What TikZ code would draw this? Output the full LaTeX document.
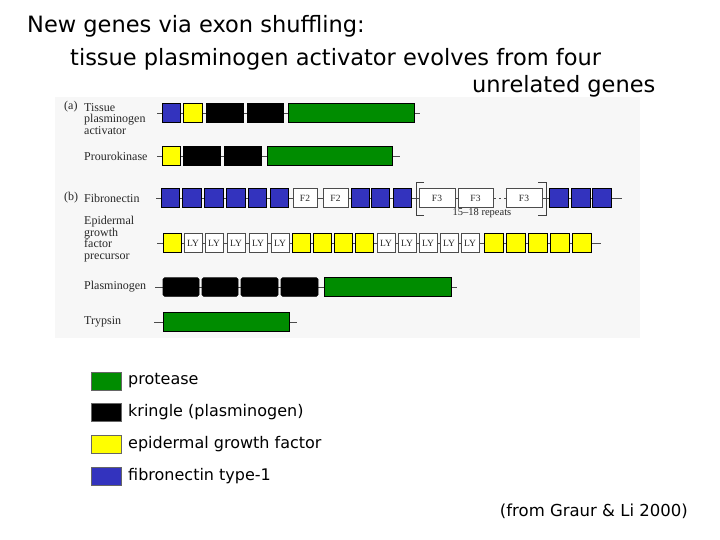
\documentclass[tikz,border=0pt]{standalone}
\usepackage{fontspec}
\setmainfont{DejaVu Sans}
\newfontfamily\figfont{Liberation Serif}
\usetikzlibrary{backgrounds}
\definecolor{protgreen}{RGB}{0,140,0}
\definecolor{fibblue}{RGB}{51,51,190}
\definecolor{egfyellow}{RGB}{255,255,0}
\definecolor{panelgray}{RGB}{247,247,247}
\definecolor{labelgray}{RGB}{40,40,40}
\begin{document}
\begin{tikzpicture}[x=1pt, y=-1pt,
  exon/.style={draw=black, line width=0.6pt, inner sep=0pt, minimum height=18.5pt},
  prot/.style={exon, fill=protgreen},
  kring/.style={exon, fill=black},
  egf/.style={exon, fill=egfyellow},
  fib/.style={exon, fill=fibblue},
  repeatbox/.style={exon, fill=white, draw=black!70, text=labelgray,
    font=\figfont\fontsize{9.5}{9.5}\selectfont},
  backbone/.style={draw=black!70, line width=0.5pt},
  genelabel/.style={anchor=west, align=left, inner sep=0pt, text=labelgray,
    font=\figfont\fontsize{12}{11.5}\selectfont},
  keybox/.style={draw=black!60, minimum width=30pt, minimum height=18pt, inner sep=0pt},
  keytext/.style={anchor=west, inner sep=0pt, font=\fontsize{16}{18}\selectfont},
  titletext/.style={anchor=base west, inner sep=0pt, font=\fontsize{22.5}{24}\selectfont}]

  \useasboundingbox (0,0) rectangle (720,540);

  % Title
  \node[titletext] (title1) at (27,33) {New genes via exon shuffling:};
  \node[titletext] (title2) at (70,66) {tissue plasminogen activator evolves from four};
  \node[titletext] (title3) at (472,93) {unrelated genes};

  % (a) Tissue plasminogen activator
  \node[genelabel, anchor=base west] (partA) at (64,110) {(a)};
  \node[genelabel] (tpaLab) at (84,119) {Tissue\\plasminogen\\activator};
  \coordinate (tpaS) at (157,113);
  \coordinate (tpaE) at (420,113);
  \node[fib, minimum width=18pt] (tpa1) at (171,113) {};
  \node[egf, minimum width=19pt] (tpa2) at (192.5,113) {};
  \foreach \l/\r [count=\i] in {206/243, 247/283} {
    \node[kring, minimum width={(\r-\l)*1pt}] (tpaK\i) at ({(\l+\r)/2},113) {};
  }
  \node[prot, minimum width=126pt] (tpaP) at (351,113) {};

  % Prourokinase
  \node[genelabel] (pukLab) at (84,156) {Prourokinase};
  \coordinate (pukS) at (157,156);
  \coordinate (pukE) at (400,156);
  \node[egf, minimum width=18pt] (puk1) at (171,156) {};
  \foreach \l/\r [count=\i] in {183/220, 224/261} {
    \node[kring, minimum width={(\r-\l)*1pt}] (pukK\i) at ({(\l+\r)/2},156) {};
  }
  \node[prot, minimum width=125pt] (pukP) at (329.5,156) {};

  % (b) Fibronectin
  \node[genelabel, anchor=base west] (partB) at (64,201) {(b)};
  \node[genelabel] (fibLab) at (84,198) {Fibronectin};
  \coordinate (fibS) at (156,198);
  \coordinate (fibE) at (622,198);
  \foreach \l/\r [count=\i] in {161/179, 182/201, 204/223, 226/245, 248/266, 270/288,
      351/369, 371/389, 393/411, 549/568, 571/590, 592/611} {
    \node[fib, minimum width={(\r-\l)*1pt}] (fibB\i) at ({(\l+\r)/2},198) {};
  }
  \foreach \l/\r [count=\i] in {293/317, 323/348} {
    \node[repeatbox, minimum width={(\r-\l)*1pt}] (fibF2\i) at ({(\l+\r)/2},198) {F2};
  }
  \foreach \l/\r [count=\i] in {419/455, 458/493, 506/542} {
    \node[repeatbox, minimum width={(\r-\l)*1pt}] (fibF3\i) at ({(\l+\r)/2},198) {F3};
  }
  \draw[black!75, line width=0.6pt] (424,182) -- (416,182) -- (416,215) -- (424,215);
  \draw[black!75, line width=0.6pt] (538,182) -- (546,182) -- (546,215) -- (538,215);
  \node[inner sep=0pt, text=labelgray, font=\figfont\fontsize{10.5}{11}\selectfont]
    (fibRep) at (482,213) {15–18 repeats};

  % Epidermal growth factor precursor
  \node[genelabel] (egfLab) at (84,239) {Epidermal\\growth\\factor\\precursor};
  \coordinate (egfS) at (157,243);
  \coordinate (egfE) at (601,243);
  \foreach \l/\r [count=\i] in {163/181, 292/310, 313/331, 334/352, 355/373,
      484/503, 506/525, 528/547, 550/569, 572/591} {
    \node[egf, minimum width={(\r-\l)*1pt}] (egfY\i) at ({(\l+\r)/2},243) {};
  }
  \foreach \l/\r [count=\i] in {184/202, 205/223, 227/245, 249/267, 271/289,
      377/395, 398/416, 419/437, 440/458, 461/479} {
    \node[repeatbox, minimum width={(\r-\l)*1pt}] (egfL\i) at ({(\l+\r)/2},243) {LY};
  }

  % Plasminogen
  \node[genelabel] (plgLab) at (84,287) {Plasminogen};
  \coordinate (plgS) at (155,287);
  \coordinate (plgE) at (457,287);
  \foreach \l/\r [count=\i] in {163/199, 202/238, 241/278, 281/318} {
    \node[kring, rounded corners=1.5pt, minimum width={(\r-\l)*1pt}] (plgK\i) at ({(\l+\r)/2},287) {};
  }
  \node[prot, minimum width=127pt] (plgP) at (387.5,287) {};

  % Trypsin
  \node[genelabel] (tryLab) at (84,322) {Trypsin};
  \coordinate (tryS) at (154,322);
  \coordinate (tryE) at (297,322);
  \node[prot, minimum width=126pt] (tryP) at (226,322) {};

  % Backbones and panel
  \begin{scope}[on background layer]
    \fill[panelgray] (55,97) rectangle (640,338);
    \draw[backbone] (tpaS) -- (tpaE);
    \draw[backbone] (pukS) -- (pukE);
    \draw[backbone] (fibS) -- (fibF32);
    \draw[backbone] (fibF33) -- (fibE);
    \draw[backbone, dash pattern=on 2.5pt off 3pt] (fibF32.east) -- (fibF33.west);
    \draw[backbone] (egfS) -- (egfE);
    \draw[backbone] (plgS) -- (plgE);
    \draw[backbone] (tryS) -- (tryE);
  \end{scope}

  % Key
  \foreach \c/\txt/\y [count=\i] in {protgreen/protease/381, black/kringle (plasminogen)/412,
      egfyellow/epidermal growth factor/444, fibblue/fibronectin type-1/476} {
    \node[keybox, fill=\c] (key\i) at (106,\y) {};
    \node[keytext] (keyLab\i) at (128,\y) {\txt};
  }

  % Source
  \node[anchor=base east, inner sep=0pt, font=\fontsize{16.5}{18}\selectfont]
    (source) at (688,516) {(from Graur \& Li 2000)};
\end{tikzpicture}
\end{document}
